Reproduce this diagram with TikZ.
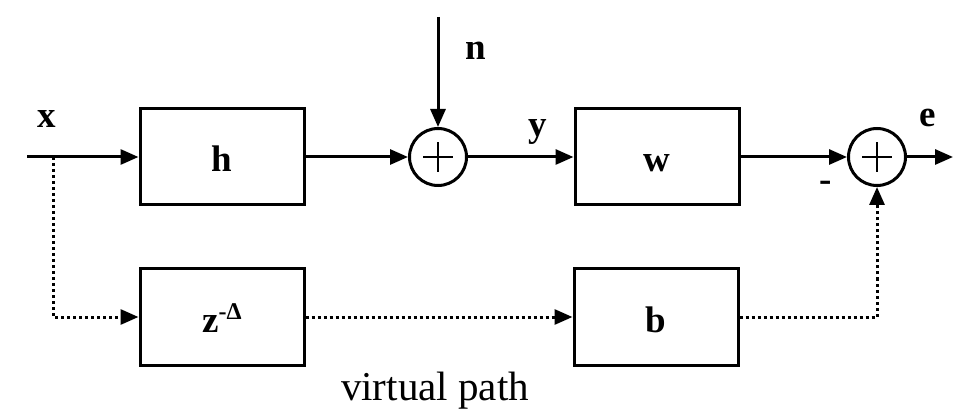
\documentclass[tikz,border=0pt]{standalone}
\usepackage{fontspec}
\setmainfont{Liberation Serif}
\usetikzlibrary{arrows.meta}

\begin{document}
\begin{tikzpicture}[x=1pt, y=-1pt, line width=3pt,
    block/.style={draw, minimum width=164pt, minimum height=96pt, inner sep=0pt,
        text height=30pt, text depth=0pt, font=\bfseries\fontsize{37}{40}\selectfont},
    sum/.style={draw, circle, minimum size=57pt, inner sep=0pt,
        path picture={
            \draw[line width=2.5pt] ([xshift=-15pt]path picture bounding box.center)
                -- ([xshift=15pt]path picture bounding box.center);
            \draw[line width=2.5pt] ([yshift=-15pt]path picture bounding box.center)
                -- ([yshift=15pt]path picture bounding box.center);
        }},
    sig/.style={-{Triangle[length=18pt,width=15pt]}},
    virt/.style={sig, dash pattern=on 3pt off 3pt},
    lbl/.style={anchor=base, inner sep=0pt, font=\bfseries\fontsize{37}{40}\selectfont}]
\useasboundingbox (0,0) rectangle (957,419);

% Main path
\node[block] (h) at (222,157) {h};
\node[sum] (sum1) at (438,157) {};
\node[block] (w) at (657,157) {w};
\node[sum] (sum2) at (877,157) {};

% Virtual path
\node[block] (delay) at (222,317) {z\raisebox{13pt}{\fontsize{24}{24}\selectfont -Δ}};
\node[block] (b) at (656,317) {b};

\coordinate (in) at (27,157);
\coordinate (tap) at (53,157);
\coordinate (noise) at (438,17);
\coordinate (out) at (953,157);

\draw[sig] (in) -- (h);
\draw[sig] (h) -- (sum1);
\draw[sig] (noise) -- (sum1);
\draw[sig] (sum1) -- (w);
\draw[sig] (w) -- (sum2);
\draw[sig] (sum2) -- (out);

\draw[virt] (tap) |- (delay);
\draw[virt] (delay) -- (b);
\draw[virt] (b) -| (sum2);

% Signal labels
\node[lbl] (xlab) at (47,128) {x};
\node[lbl] (nlab) at (476,60) {n};
\node[lbl] (ylab) at (538,137) {y};
\node[lbl] (elab) at (928,127) {e};
\node[lbl] (minus) at (826,192) {-};
\node[anchor=base, inner sep=0pt, font=\fontsize{41}{44}\selectfont] (vlab) at (435,400) {virtual path};
\end{tikzpicture}
\end{document}
